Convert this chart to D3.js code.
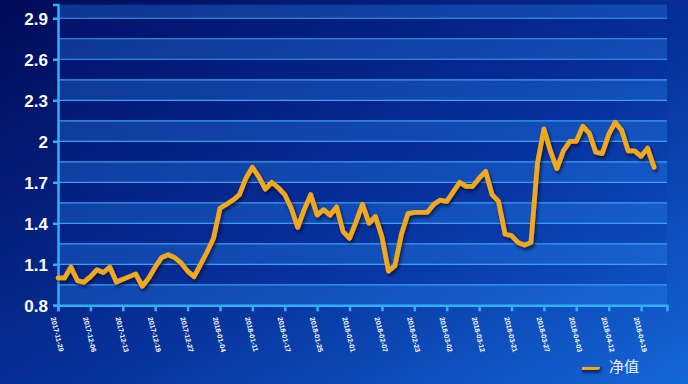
<!DOCTYPE html>
<html><head><meta charset="utf-8">
<script src="https://cdn.jsdelivr.net/npm/d3@7"></script>
<style>html,body{margin:0;padding:0;overflow:hidden;background:#03166e}</style>
</head><body><svg id="c" width="688" height="384"></svg>
<script>
const seriesName = "净值";
const values = [1.00,1.00,1.08,0.98,0.97,1.01,1.06,1.04,1.08,0.97,0.99,1.01,1.03,0.94,1.00,1.08,1.15,1.17,1.15,1.11,1.05,1.01,1.10,1.19,1.29,1.51,1.54,1.57,1.61,1.73,1.81,1.74,1.65,1.70,1.66,1.61,1.51,1.37,1.50,1.61,1.46,1.50,1.46,1.52,1.34,1.29,1.41,1.54,1.40,1.45,1.30,1.05,1.09,1.32,1.47,1.48,1.48,1.48,1.54,1.57,1.56,1.63,1.70,1.67,1.67,1.73,1.78,1.61,1.56,1.32,1.31,1.26,1.24,1.26,1.84,2.09,1.93,1.80,1.93,2.00,2.00,2.11,2.06,1.92,1.91,2.05,2.14,2.08,1.93,1.93,1.89,1.95,1.81];
const tickLabels = ["2017-11-29","2017-12-06","2017-12-13","2017-12-19","2017-12-27","2018-01-04","2018-01-11","2018-01-17","2018-01-25","2018-02-01","2018-02-07","2018-02-23","2018-03-02","2018-03-12","2018-03-21","2018-03-27","2018-04-03","2018-04-12","2018-04-19"];
const tickEvery = 5;
const categoryCount = 95;
const yTicks = [0.8,1.1,1.4,1.7,2.0,2.3,2.6,2.9];
const yBands = [0.8,0.95,1.1,1.25,1.4,1.55,1.7,1.85,2.0,2.15,2.3,2.45,2.6,2.75,2.9,3.0];

const svg = d3.select("#c");
const W = 688, H = 384;
const L = 58, R = 667, T = 4.6, B = 305.3;

const defs = svg.append("defs");
const bg = defs.append("linearGradient").attr("id","bg").attr("x1","0").attr("y1","0").attr("x2","1").attr("y2","1");
bg.append("stop").attr("offset","0").attr("stop-color","#000a58");
bg.append("stop").attr("offset","0.55").attr("stop-color","#06319a");
bg.append("stop").attr("offset","1").attr("stop-color","#1466d8");
const sh = defs.append("filter").attr("id","sh").attr("filterUnits","userSpaceOnUse")
  .attr("x",0).attr("y",0).attr("width",W).attr("height",H);
sh.append("feDropShadow").attr("dx",1.5).attr("dy",2.5).attr("stdDeviation",1.5).attr("flood-color","#000a30").attr("flood-opacity",0.75);

svg.append("rect").attr("width",W).attr("height",H).attr("fill","url(#bg)");

const x = d3.scaleLinear().domain([0, categoryCount-1]).range([L, R]);
const y = d3.scaleLinear().domain([0.8, 3.0]).range([B, T]);

// bands
const g = svg.append("g");
for (let i = 0; i < yBands.length-1; i++) {
  g.append("rect").attr("x", L).attr("width", R-L)
    .attr("y", y(yBands[i+1])).attr("height", y(yBands[i]) - y(yBands[i+1]))
    .attr("fill", i % 2 === 0 ? "rgba(40,130,240,0.34)" : "rgba(5,40,170,0.12)");
}
// gridlines
g.selectAll("line.grid").data(yBands.slice(1, -1)).enter().append("line")
  .attr("x1", L).attr("x2", R).attr("y1", d => y(d)).attr("y2", d => y(d))
  .attr("stroke", "#3aa0f0").attr("stroke-width", 1.2);

// y axis
const yAxis = d3.axisLeft(y).tickValues(yTicks).tickFormat(d => d3.format("")(+d.toFixed(1))).tickSize(5).tickPadding(5);
const ya = svg.append("g").attr("transform", `translate(${L},0)`).call(yAxis);
ya.select(".domain").attr("stroke", "#2fb2f5").attr("stroke-width", 2.5);
ya.selectAll(".tick line").attr("stroke", "#2fb2f5").attr("stroke-width", 2.5);
ya.selectAll(".tick text").attr("fill", "#ffffff").attr("font-family", "Liberation Sans, Arial, sans-serif")
  .attr("font-weight", "bold").attr("font-size", 17).attr("dy", "0.35em");

// x axis
const tickIdx = tickLabels.map((_, i) => i * tickEvery);
const xAxis = d3.axisBottom(x).tickValues(tickIdx).tickFormat((d, i) => tickLabels[i]).tickSize(6).tickPadding(0);
const xa = svg.append("g").attr("transform", `translate(0,${B})`).call(xAxis);
xa.select(".domain").attr("stroke", "#2fb2f5").attr("stroke-width", 2.5);
xa.selectAll(".tick line").attr("stroke", "#2fb2f5").attr("stroke-width", 2.5);
xa.selectAll(".tick text").attr("fill", "#ffffff").attr("font-family", "Liberation Sans, Arial, sans-serif")
  .attr("font-weight", "bold").attr("font-size", 7)
  .attr("text-anchor", "start").attr("dy", 0)
  .attr("transform", "translate(-2,11) rotate(76)");

// line
const line = d3.line().x((d, i) => x(i)).y(d => y(d));
svg.append("path").datum(values).attr("d", line)
  .attr("fill", "none").attr("stroke", "#f2a81d").attr("stroke-width", 4.8)
  .attr("stroke-linejoin", "round").attr("stroke-linecap", "round").attr("filter", "url(#sh)");

// legend
const lg = svg.append("g").attr("transform", "translate(582,367)");
lg.append("line").attr("x1", 0).attr("x2", 15).attr("y1", 0).attr("y2", 0)
  .attr("stroke", "#f2a81d").attr("stroke-width", 6).attr("stroke-linecap", "round").attr("filter","url(#sh)");
lg.append("text").attr("x", 27).attr("y", 0).attr("dy", "0.36em").text(seriesName)
  .attr("fill", "#eef4ff").attr("font-family", "Noto Sans CJK SC, sans-serif").attr("font-size", 15);
</script></body></html>
